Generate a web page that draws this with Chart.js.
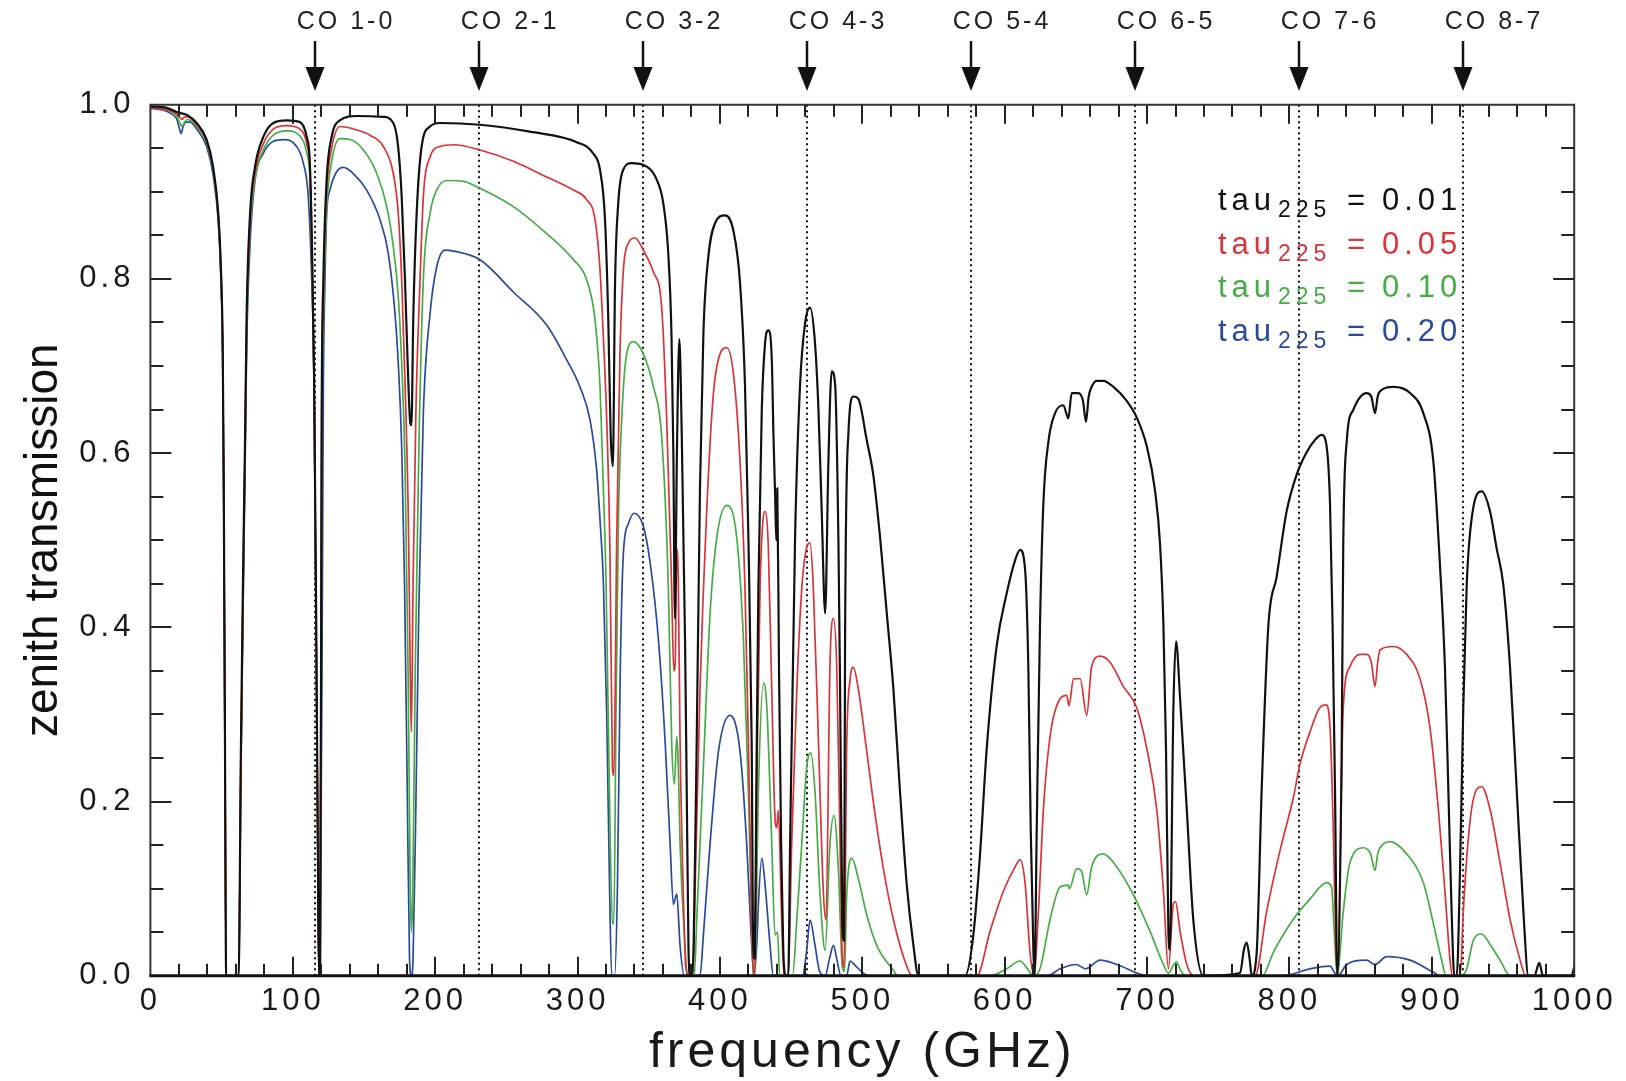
<!DOCTYPE html>
<html>
<head>
<meta charset="utf-8">
<title>Zenith transmission</title>
<script src="https://cdn.jsdelivr.net/npm/chart.js@4.4.1/dist/chart.umd.min.js"></script>
<style>
  html, body { margin: 0; padding: 0; background: #ffffff; }
  canvas { display: block; }
</style>
</head>
<body>
<canvas id="c" width="1626" height="1081"></canvas>
<script>
// ---------------- DATA ----------------
const coLabels = ['CO 1-0', 'CO 2-1', 'CO 3-2', 'CO 4-3', 'CO 5-4', 'CO 6-5', 'CO 7-6', 'CO 8-7'];
const coFreqs  = [115.27, 230.54, 345.80, 461.04, 576.27, 691.47, 806.65, 921.80];

const seriesNames = ['tau225 = 0.01', 'tau225 = 0.05', 'tau225 = 0.10', 'tau225 = 0.20'];
const tauValues   = ['0.01', '0.05', '0.10', '0.20'];

const xTicks = [0, 100, 200, 300, 400, 500, 600, 700, 800, 900, 1000];
const yTicks = [0.0, 0.2, 0.4, 0.6, 0.8, 1.0];

// [frequency GHz, transmission]
const tau001 = [[0,0.998],[10,0.997],[18,0.992],[22,0.99],[26,0.988],[32.5,0.979],[39.5,0.96],[44,0.929],[47.7,0.875],[49.4,0.818],[50.8,0.72],[51.5,0.57],[52.3,0.3],[53.2,0],[62,0],[63.5,0.25],[65,0.45],[66.4,0.607],[67.6,0.76],[70,0.875],[73.5,0.929],[79.3,0.963],[86.3,0.979],[95.7,0.982],[105,0.98],[109.8,0.963],[112,0.933],[113.5,0.837],[115,0.684],[116.5,0.4],[117.8,0.1],[118.4,0],[119.2,0],[120.3,0.646],[121.5,0.8],[123.8,0.914],[127.3,0.963],[133,0.982],[145,0.987],[163.6,0.986],[170.6,0.979],[174,0.952],[176.5,0.894],[178.8,0.8],[180.7,0.703],[182.5,0.635],[183.3,0.632],[184.7,0.76],[187,0.875],[190.5,0.952],[196.4,0.975],[203.4,0.979],[231.5,0.977],[266.6,0.969],[299.4,0.957],[311,0.944],[315.8,0.925],[319.3,0.868],[321.6,0.753],[323.3,0.62],[324.8,0.585],[326.3,0.791],[328.6,0.887],[332,0.925],[338,0.933],[346,0.931],[355.6,0.914],[360.2,0.887],[363.7,0.83],[366,0.734],[367.3,0.6],[368.4,0.41],[369.8,0.6],[371.5,0.731],[373.2,0.621],[375.5,0.386],[376.7,0.21],[377.9,0.035],[379,0],[380.5,0],[381.6,0.04],[383.7,0.27],[386,0.56],[388.4,0.738],[391.9,0.826],[396.6,0.864],[403.6,0.873],[409.5,0.855],[414.1,0.796],[417.6,0.679],[420,0.503],[422.3,0.269],[423.5,0.02],[424.5,0.02],[425.5,0.2],[427,0.445],[429.4,0.65],[431.7,0.726],[434,0.741],[436.4,0.709],[437.6,0.621],[438.8,0.55],[439.6,0.5],[440.3,0.56],[441.5,0.35],[443,0.15],[444.5,0.03],[446,0],[448,0],[449.3,0.152],[452.8,0.504],[456.3,0.679],[459.8,0.749],[463.3,0.767],[466.8,0.726],[469.2,0.65],[471.5,0.533],[473.9,0.416],[476.2,0.591],[478.5,0.694],[480.9,0.679],[483.2,0.503],[484.4,0.328],[486,0.06],[487.2,0.04],[487.9,0.386],[490.2,0.621],[493.7,0.665],[497.3,0.662],[503.1,0.615],[507.8,0.574],[512.5,0.503],[517.2,0.416],[521.9,0.328],[526.5,0.211],[531.2,0.105],[535.9,0.035],[539.4,0],[572.2,0],[578,0.047],[582.7,0.14],[587.4,0.261],[594.4,0.379],[601.4,0.439],[607.3,0.477],[610.8,0.489],[614.3,0.467],[616.6,0.355],[618.3,0.168],[620.2,0.027],[621,0],[622.5,0.168],[624.8,0.402],[627.2,0.543],[630.7,0.613],[635.4,0.646],[641.2,0.655],[644.7,0.64],[647.1,0.669],[651.8,0.669],[655,0.66],[657.1,0.636],[659,0.665],[660.5,0.674],[664.6,0.683],[669.3,0.683],[676.4,0.676],[685.7,0.66],[692.7,0.641],[699.8,0.608],[705.6,0.557],[709.1,0.496],[711.5,0.402],[713.3,0.261],[715,0.05],[716,0.03],[718.5,0.308],[720.4,0.384],[723.2,0.318],[727.9,0.191],[732.5,0.064],[739.6,0],[765.3,0.003],[768,0.03],[770,0.038],[772,0.02],[773.5,0],[777,0.027],[780.5,0.214],[785.2,0.402],[791,0.458],[798,0.533],[805,0.575],[812.1,0.601],[817.9,0.615],[822.6,0.621],[826.1,0.608],[828.5,0.542],[830.3,0.402],[832,0.214],[833.6,0],[836.7,0.261],[837.8,0.496],[840.2,0.613],[844.9,0.65],[854.2,0.669],[857.5,0.665],[860.1,0.646],[862,0.665],[863.6,0.671],[873,0.676],[884.7,0.669],[894,0.646],[901.1,0.59],[905.7,0.472],[909.2,0.355],[911.6,0.214],[913.9,0.074],[915.8,0],[917.5,0],[919.8,0.121],[922.1,0.308],[924.5,0.449],[929.2,0.538],[935,0.556],[940.9,0.533],[945.5,0.491],[950.2,0.449],[954.9,0.355],[959.6,0.214],[964.3,0.074],[967.8,0],[972,0],[975.5,0.015],[978,0],[998,0],[1000,0.01]];

const tau005 = [[0,0.997],[18,0.99],[21,0.985],[22.2,0.983],[24,0.986],[26,0.986],[32.5,0.977],[39.5,0.958],[44,0.927],[47.7,0.872],[49.4,0.815],[50.8,0.715],[51.5,0.56],[52.3,0.29],[53.2,0],[62,0],[63.5,0.24],[65,0.44],[66.4,0.6],[67.6,0.75],[70,0.866],[73.5,0.922],[79.3,0.955],[86.3,0.972],[95.7,0.976],[105,0.972],[109.8,0.955],[112,0.925],[113.5,0.83],[115,0.675],[116.5,0.38],[117.8,0.1],[118.4,0],[119.2,0],[120.3,0.63],[121.5,0.785],[123.8,0.9],[127.3,0.95],[133.2,0.975],[145,0.971],[154.2,0.965],[163.6,0.952],[170.6,0.921],[174.1,0.875],[176.5,0.799],[178.8,0.684],[181.2,0.52],[182.5,0.35],[183.3,0.28],[184.5,0.45],[186.5,0.65],[189.4,0.799],[191.7,0.894],[196.4,0.94],[203.4,0.952],[212.8,0.954],[231.5,0.948],[254.9,0.935],[278.3,0.917],[297.1,0.902],[306.4,0.891],[312.3,0.868],[315.8,0.81],[318.1,0.734],[320.5,0.638],[322.8,0.485],[324.5,0.24],[325.5,0.23],[327.5,0.5],[329.8,0.714],[332.2,0.81],[335.7,0.841],[340.4,0.847],[346.2,0.833],[353.3,0.808],[359.1,0.767],[362.6,0.64],[366.1,0.445],[367.6,0.35],[368.6,0.36],[369.7,0.49],[370.8,0.45],[372,0.27],[374.3,0.094],[376,0.01],[379,0],[381,0.005],[382.5,0.094],[386,0.328],[390.7,0.533],[395.4,0.668],[400.1,0.714],[404.8,0.721],[409.5,0.691],[414.1,0.591],[417.6,0.445],[420,0.269],[422.3,0.064],[423.5,0],[424.5,0],[425.8,0.211],[428.2,0.445],[430.5,0.527],[431.7,0.533],[434,0.492],[436.4,0.328],[438.7,0.181],[440,0.17],[441,0.19],[443.4,0.064],[445,0],[448,0],[450.4,0.152],[454,0.328],[457.5,0.445],[461,0.492],[463.3,0.497],[465.6,0.445],[469.2,0.269],[472.7,0.094],[474.5,0.064],[477.3,0.357],[479.7,0.41],[482,0.357],[484.4,0.152],[486,0.02],[487.2,0.01],[489.1,0.269],[491.4,0.34],[493.7,0.354],[497.3,0.328],[503.1,0.258],[507.8,0.199],[514.8,0.123],[521.9,0.064],[531.2,0.011],[535,0],[580.4,0],[589.7,0.051],[599.1,0.097],[607.3,0.125],[610.8,0.133],[614.3,0.107],[617.8,0.027],[620.5,0],[623.7,0.074],[627.2,0.191],[631.9,0.275],[638.9,0.318],[643.6,0.322],[645.2,0.31],[648.3,0.341],[653,0.341],[657.6,0.299],[661.1,0.355],[667,0.367],[674,0.36],[683.4,0.332],[692.7,0.308],[699.8,0.261],[706.8,0.191],[711.5,0.097],[715,0.008],[718.5,0.083],[720,0.085],[723.2,0.051],[727.9,0.013],[733,0],[775.9,0],[784,0.074],[793.4,0.144],[802.8,0.205],[807.4,0.243],[814.4,0.28],[821.4,0.308],[825.7,0.311],[828.5,0.285],[830.8,0.168],[832.7,0.027],[834,0],[835.5,0.121],[837.8,0.308],[842.5,0.355],[849.5,0.369],[854.2,0.369],[857.5,0.36],[860.1,0.332],[862,0.36],[863.6,0.374],[873,0.378],[882.3,0.369],[891.7,0.341],[898.7,0.285],[904.6,0.191],[909.2,0.097],[912.8,0.018],[914.5,0],[920,0],[922.1,0.074],[926.8,0.177],[931.5,0.214],[935,0.217],[940.9,0.191],[947.9,0.13],[954.9,0.065],[962,0.018],[966,0],[1000,0]];

const tau010 = [[0,0.997],[18,0.988],[21,0.978],[22.2,0.975],[24,0.98],[26,0.983],[32.5,0.975],[39.5,0.956],[44,0.925],[47.7,0.87],[49.4,0.812],[50.8,0.71],[51.5,0.55],[52.3,0.28],[53.2,0],[62,0],[63.5,0.23],[65,0.43],[66.4,0.59],[67.6,0.74],[70,0.856],[73.5,0.914],[79.3,0.948],[86.3,0.965],[95.7,0.97],[105,0.964],[109.8,0.945],[112,0.915],[113.5,0.82],[115,0.67],[116.5,0.37],[117.8,0.1],[118.4,0],[119.2,0],[120.3,0.6],[121.5,0.76],[123.8,0.88],[127.3,0.935],[133.2,0.961],[140.2,0.96],[149.6,0.948],[159,0.921],[166,0.883],[170.6,0.837],[174.1,0.78],[176.5,0.703],[178.8,0.588],[181,0.35],[182.5,0.1],[183.3,0.05],[184.3,0.1],[186,0.35],[188.5,0.6],[191.7,0.799],[196.4,0.875],[201.1,0.902],[208.1,0.913],[219.8,0.912],[231.5,0.904],[254.9,0.883],[278.3,0.852],[297.1,0.822],[306.4,0.799],[312.3,0.753],[315.8,0.676],[318.1,0.561],[320,0.454],[322.5,0.2],[324.5,0.06],[325.5,0.06],[327,0.3],[328.7,0.523],[331,0.638],[334.5,0.714],[339.2,0.728],[346.2,0.714],[353.3,0.676],[359.1,0.619],[363.8,0.445],[366.1,0.269],[368,0.22],[369.7,0.275],[370.8,0.24],[372,0.152],[375.5,0.035],[377,0],[382,0],[383.7,0.064],[388.4,0.24],[393.1,0.416],[397.8,0.503],[404.8,0.54],[411.8,0.503],[416.5,0.386],[420,0.211],[422.3,0.064],[423.5,0],[424.5,0],[427,0.211],[430.5,0.336],[432.9,0.31],[436.4,0.152],[438.7,0.047],[440.5,0.05],[442,0],[451,0],[454,0.064],[457.5,0.152],[461,0.24],[463.8,0.256],[466.8,0.211],[470.3,0.094],[473.9,0.029],[477.3,0.152],[480.2,0.184],[483.2,0.123],[486,0.01],[487.5,0.005],[489.1,0.094],[492.6,0.135],[497.3,0.111],[503.1,0.07],[510.1,0.035],[521.9,0.006],[525,0],[589.7,0],[601.4,0.008],[610.8,0.017],[616,0.008],[620,0],[624.8,0.008],[631.9,0.065],[638.9,0.102],[644.7,0.104],[645.5,0.1],[650.6,0.123],[654,0.12],[657.6,0.093],[661.1,0.125],[669.3,0.14],[678.7,0.125],[690.4,0.093],[702.1,0.051],[711.5,0.013],[715,0.003],[718.5,0.012],[720.5,0.016],[724,0.005],[728,0],[781,0],[788.7,0.027],[802.7,0.065],[814.4,0.088],[826.1,0.107],[829.6,0.102],[831.5,0.05],[833.5,0],[837.8,0.074],[842.5,0.13],[851.9,0.147],[857,0.14],[860.1,0.121],[862,0.14],[863.6,0.147],[870.6,0.154],[882.3,0.14],[894,0.107],[901.1,0.06],[906.9,0.018],[910,0],[921,0],[924.5,0.008],[929.2,0.041],[935,0.048],[940.9,0.036],[947.9,0.018],[955,0],[1000,0]];

const tau020 = [[0,0.996],[18,0.985],[20,0.975],[21.5,0.967],[23,0.975],[25,0.98],[28,0.98],[32.5,0.972],[39.5,0.952],[44,0.92],[47.7,0.865],[49.4,0.807],[50.8,0.705],[51.5,0.545],[52.3,0.27],[53.2,0],[62,0],[63.5,0.22],[65,0.41],[66.4,0.57],[67.6,0.72],[70,0.84],[73.5,0.914],[79.3,0.944],[86.3,0.958],[93.4,0.96],[102.7,0.952],[107.4,0.933],[110.9,0.894],[113.3,0.799],[114.9,0.684],[116.5,0.37],[117.8,0.1],[118.4,0],[119.2,0],[121.5,0.684],[122.6,0.799],[123.8,0.875],[126.1,0.902],[130.8,0.923],[135.5,0.928],[142.5,0.921],[151.9,0.902],[161.3,0.868],[167.1,0.829],[171.8,0.76],[174.1,0.703],[176.5,0.607],[178.5,0.45],[180.5,0.2],[182,0.02],[183.3,0],[184.5,0.02],[186.5,0.2],[188.5,0.42],[191.7,0.646],[196.4,0.76],[201.1,0.814],[207,0.833],[212.8,0.832],[231.5,0.822],[254.9,0.785],[278.3,0.747],[292.4,0.707],[301.7,0.676],[308.8,0.638],[313.4,0.581],[315.8,0.523],[318.1,0.454],[320.5,0.3],[322.5,0.1],[324,0],[326,0],[328,0.1],[330,0.35],[332.2,0.485],[335.7,0.519],[339.7,0.531],[346.2,0.516],[351,0.474],[356.8,0.386],[361.5,0.269],[365,0.152],[367.3,0.082],[369.7,0.094],[372,0.035],[375,0],[386,0],[388.4,0.047],[393.1,0.152],[399,0.258],[407.1,0.299],[414.1,0.258],[418.8,0.152],[422.3,0.035],[424,0],[426,0.04],[427,0.082],[429.4,0.135],[431.7,0.105],[435.2,0.035],[437.5,0],[458,0],[461,0.03],[463.3,0.064],[466.8,0.035],[470,0.005],[474,0],[477,0.02],[479.7,0.035],[482,0.02],[485,0],[489,0],[491.4,0.017],[495,0.012],[500,0.004],[505,0],[630,0],[638.9,0.008],[650,0.013],[657,0.008],[667,0.018],[678.7,0.013],[695,0.002],[700,0],[795,0],[814.4,0.008],[828.5,0.011],[832,0.003],[834,0],[840.2,0.013],[854.2,0.018],[860,0.013],[868.3,0.022],[884.7,0.018],[901.1,0.004],[906,0],[1000,0]];

const seriesData   = [tau001, tau005, tau010, tau020];
const seriesColors = ['#111111', '#d8343a', '#46ad46', '#2b4a99'];
const seriesWidths = [2.2, 1.7, 1.7, 1.7];

// ---------------- STYLE / LAYOUT ----------------
const FONT = '"Liberation Sans", Arial, Helvetica, sans-serif';
const PLOT = { left: 150.4, top: 104.7, right: 1574.2, bottom: 975.8 };
const W = 1626, H = 1081;

const framePlugin = {
  id: 'frame',
  beforeDraw(chart) {
    chart.ctx.letterSpacing = '4px';
  },
  beforeDatasetsDraw(chart) {
    const { ctx, chartArea: a, scales: { x } } = chart;
    ctx.save();
    ctx.letterSpacing = '0px';
    ctx.strokeStyle = '#111';
    ctx.lineWidth = 2;
    ctx.setLineDash([2, 3.5]);
    coFreqs.forEach(f => {
      const px = Math.round(x.getPixelForValue(f));
      ctx.beginPath();
      ctx.moveTo(px, a.top);
      ctx.lineTo(px, a.bottom);
      ctx.stroke();
    });
    ctx.restore();
  },
  afterDraw(chart) {
    const { ctx, chartArea: a, scales: { x, y } } = chart;
    ctx.save();
    ctx.letterSpacing = '0px';
    ctx.setLineDash([]);

    // ticks (inward) on all four sides
    ctx.strokeStyle = '#222';
    ctx.lineWidth = 2;
    for (let f = 20; f < 1000; f += 20) {
      const px = Math.round(x.getPixelForValue(f));
      const len = (f % 100 === 0) ? 19 : 12;
      ctx.beginPath();
      ctx.moveTo(px, a.bottom); ctx.lineTo(px, a.bottom - len);
      ctx.moveTo(px, a.top); ctx.lineTo(px, a.top + len);
      ctx.stroke();
    }
    for (let k = 1; k < 20; k++) {
      const v = k * 0.05;
      const py = Math.round(y.getPixelForValue(v));
      const len = (k % 4 === 0) ? 21 : 13;
      ctx.beginPath();
      ctx.moveTo(a.left, py); ctx.lineTo(a.left + len, py);
      ctx.moveTo(a.right, py); ctx.lineTo(a.right - len, py);
      ctx.stroke();
    }

    // frame
    ctx.strokeStyle = '#333';
    ctx.lineWidth = 2;
    ctx.beginPath();
    ctx.moveTo(a.left, a.bottom); ctx.lineTo(a.left, a.top);
    ctx.lineTo(a.right, a.top); ctx.lineTo(a.right, a.bottom);
    ctx.stroke();
    ctx.strokeStyle = '#111';
    ctx.lineWidth = 3;
    ctx.beginPath();
    ctx.moveTo(a.left - 1, a.bottom); ctx.lineTo(a.right + 1, a.bottom);
    ctx.stroke();

    // CO arrows and labels
    coFreqs.forEach((f, i) => {
      const px = Math.round(x.getPixelForValue(f));
      ctx.strokeStyle = '#111';
      ctx.fillStyle = '#111';
      ctx.lineWidth = 2.5;
      ctx.beginPath();
      ctx.moveTo(px, 41); ctx.lineTo(px, 72);
      ctx.stroke();
      ctx.beginPath();
      ctx.moveTo(px - 9.5, 67); ctx.lineTo(px + 9.5, 67); ctx.lineTo(px, 91);
      ctx.closePath();
      ctx.fill();
      ctx.font = '25px ' + FONT;
      ctx.letterSpacing = '3px';
      ctx.fillStyle = '#222';
      ctx.textAlign = 'center';
      ctx.textBaseline = 'middle';
      ctx.fillText(coLabels[i], px + 31, 22);
      ctx.letterSpacing = '0px';
    });

    // legend with subscripts
    tauValues.forEach((val, i) => {
      const base = 210 + i * 43.5;
      const lx = 1218;
      ctx.fillStyle = i === 0 ? '#111' : seriesColors[i];
      ctx.textAlign = 'left';
      ctx.textBaseline = 'alphabetic';
      ctx.letterSpacing = '5px';
      ctx.font = '31px ' + FONT;
      ctx.fillText('tau', lx, base);
      ctx.font = '23px ' + FONT;
      ctx.fillText('225', lx + 60, base + 7);
      ctx.font = '31px ' + FONT;
      ctx.fillText('=', lx + 129, base);
      ctx.fillText(val, lx + 164, base);
    });

    // y-axis title
    ctx.letterSpacing = '0px';
    ctx.fillStyle = '#111';
    ctx.font = '46px ' + FONT;
    ctx.translate(44, (a.top + a.bottom) / 2);
    ctx.rotate(-Math.PI / 2);
    ctx.textAlign = 'center';
    ctx.textBaseline = 'middle';
    ctx.fillText('zenith transmission', 0, 0);
    ctx.restore();
    chart.ctx.letterSpacing = '0px';
  }
};

const datasets = seriesData.map((arr, i) => ({
  label: seriesNames[i],
  data: arr.map(([f, t]) => ({ x: f, y: t })),
  borderColor: seriesColors[i],
  backgroundColor: seriesColors[i],
  borderWidth: seriesWidths[i],
  pointRadius: 0,
  fill: false,
  cubicInterpolationMode: 'monotone'
}));

new Chart(document.getElementById('c'), {
  type: 'line',
  data: { datasets },
  options: {
    responsive: false,
    animation: false,
    devicePixelRatio: 1,
    layout: { padding: { left: 0, top: PLOT.top, right: W - PLOT.right, bottom: 0 } },
    plugins: { legend: { display: false }, tooltip: { enabled: false } },
    elements: { line: { borderJoinStyle: 'round', borderCapStyle: 'round' } },
    scales: {
      x: {
        type: 'linear', position: 'bottom', min: 0, max: 1000,
        afterBuildTicks: s => { s.ticks = xTicks.map(v => ({ value: v })); },
        ticks: { color: '#1a1a1a', font: { family: FONT, size: 31 }, padding: 7, maxRotation: 0, autoSkip: false,
                 callback: v => String(v) },
        grid: { display: false, drawTicks: false },
        border: { display: false },
        title: { display: true, text: 'frequency (GHz)', color: '#1a1a1a',
                 font: { family: FONT, size: 50, lineHeight: 1 }, padding: { top: 0, bottom: 3 } },
        afterFit: s => { s.height = H - PLOT.bottom; }
      },
      y: {
        type: 'linear', position: 'left', min: 0, max: 1,
        afterBuildTicks: s => { s.ticks = yTicks.map(v => ({ value: v })); },
        ticks: { color: '#1a1a1a', font: { family: FONT, size: 31 }, padding: 16,
                 callback: v => Number(v).toFixed(1) },
        grid: { display: false, drawTicks: false },
        border: { display: false },
        afterFit: s => { s.width = PLOT.left; }
      }
    }
  },
  plugins: [framePlugin]
});
</script>
</body>
</html>
